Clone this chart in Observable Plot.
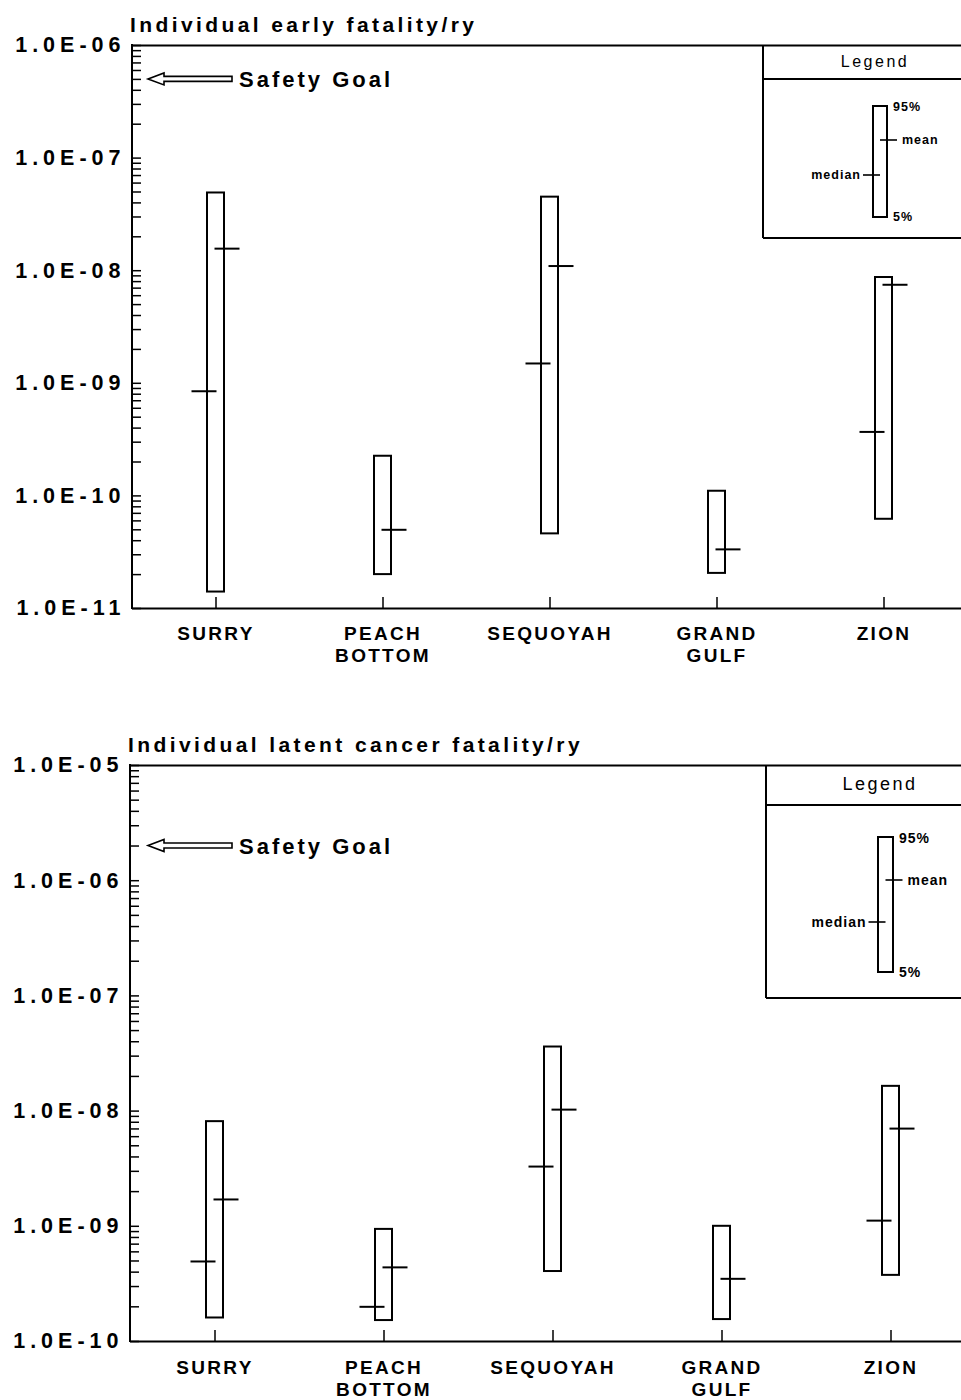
<!DOCTYPE html>
<html><head><meta charset="utf-8">
<script src="https://cdn.jsdelivr.net/npm/d3@7"></script>
<script src="https://cdn.jsdelivr.net/npm/@observablehq/plot@0.6"></script>
<style>
body{margin:0;background:#fff;}
#wrap{width:961px;}
svg{display:block;}
g[aria-label="y-axis tick label"]{letter-spacing:5px;}
g[aria-label="x-axis tick label"]{letter-spacing:2.3px;}
</style></head><body><div id="wrap"></div>
<script>
// ---- data ----
const plants = ["SURRY", "PEACH\nBOTTOM", "SEQUOYAH", "GRAND\nGULF", "ZION"];

const earlyP5     = [1.4e-11, 2.0e-11, 4.6e-11, 2.05e-11, 6.2e-11];
const earlyP95    = [4.9e-8, 2.25e-10, 4.5e-8, 1.1e-10, 8.7e-9];
const earlyMedian = [8.5e-10, null, 1.5e-9, null, 3.7e-10];
const earlyMean   = [1.57e-8, 5.0e-11, 1.1e-8, 3.35e-11, 7.5e-9];

const latentP5     = [1.6e-10, 1.52e-10, 4.05e-10, 1.55e-10, 3.75e-10];
const latentP95    = [8.1e-9, 9.4e-10, 3.6e-8, 1.0e-9, 1.64e-8];
const latentMedian = [4.95e-10, 2.0e-10, 3.3e-9, null, 1.12e-9];
const latentMean   = [1.71e-9, 4.4e-10, 1.03e-8, 3.5e-10, 7.05e-9];

const earlyTicks  = [1e-11, 1e-10, 1e-9, 1e-8, 1e-7, 1e-6];
const latentTicks = [1e-10, 1e-9, 1e-8, 1e-7, 1e-6, 1e-5];

const earlyGoal = 5e-7;
const latentGoal = 2e-6;

const earlyTitle = "Individual early fatality/ry";
const latentTitle = "Individual latent cancer fatality/ry";
const goalLabel = "Safety Goal";
const legendLabels = {head: "Legend", hi: "95%", mean: "mean", median: "median", lo: "5%"};

// ---- drawing ----
const FONT = "'Liberation Sans', Arial, Helvetica, sans-serif";
const fmt = d => {
  const [m, e] = d.toExponential(1).split("e");
  const n = +e;
  return m + "E" + (n < 0 ? "-" : "+") + String(Math.abs(n)).padStart(2, "0");
};

function panel(cfg) {
  const {title, ticks, p5, p95, med, mean, goal, xr0, xr1, marginTop, marginBottom, height, labelPad, titleX, titleY, lg} = cfg;
  const lo = ticks[0], hi = ticks[ticks.length - 1];
  const data = plants.map((p, i) => ({plant: p, p5: p5[i], p95: p95[i], med: med[i], mean: mean[i]}));
  const step = (xr1 - xr0) / plants.length;
  const boxW = 17;
  const minor = [];
  for (let i = 0; i < ticks.length - 1; i++) for (let k = 1; k < 10; k++) minor.push(k * ticks[i]);
  minor.push(hi);
  const innerH = height - marginTop - marginBottom;

  const chart = Plot.plot({
    width: 961, height, marginTop, marginBottom, marginLeft: xr0, marginRight: 0,
    style: {fontFamily: FONT, background: "white", color: "black", overflow: "visible"},
    x: {type: "band", domain: plants, range: [xr0, xr1], padding: 0, round: false, label: null},
    y: {type: "log", domain: [lo, hi], label: null},
    marks: [
      Plot.ruleY([hi, lo], {strokeWidth: 2}),
      Plot.tickY(minor, {y: d => d, insetRight: 961 - xr0 - 9, strokeWidth: 1.5}),
      Plot.tickX(plants, {x: d => d, insetTop: innerH - 11, strokeWidth: 1.5}),
      Plot.barY(data, {x: "plant", y1: "p5", y2: "p95", fill: "white", stroke: "black", strokeWidth: 2,
        insetLeft: (step - boxW) / 2, insetRight: (step - boxW) / 2}),
      Plot.tickY(data.filter(d => d.med != null), {x: "plant", y: "med", strokeWidth: 2,
        insetLeft: step / 2 - 24, insetRight: step / 2 - 1}),
      Plot.tickY(data.filter(d => d.mean != null), {x: "plant", y: "mean", strokeWidth: 2,
        insetLeft: step / 2 - 1, insetRight: step / 2 - 24}),
      Plot.axisY(ticks, {tickSize: 0, tickPadding: 7, tickFormat: fmt, fontSize: 21.5, fontWeight: "bold", label: null}),
      Plot.axisX({tickSize: 0, tickPadding: labelPad, fontSize: 19, fontWeight: "bold", lineHeight: 1.2, label: null})
    ]
  });

  const svg = d3.select(chart);
  const y = chart.scale("y");
  // left axis line
  svg.append("line").attr("x1", xr0).attr("x2", xr0).attr("y1", marginTop - 1).attr("y2", height - marginBottom + 1)
    .attr("stroke", "black").attr("stroke-width", 2);
  // title
  svg.append("text").attr("x", titleX).attr("y", titleY).attr("text-anchor", "start").text(title)
    .attr("font-size", 21).attr("font-weight", "bold").attr("font-family", FONT).style("letter-spacing", "3.4px");
  // safety goal arrow
  const gy = y.apply(goal);
  const tip = 148, base = 164, end = 232;
  svg.append("path")
    .attr("d", `M${tip},${gy} L${base},${gy - 6} L${base},${gy - 2.5} L${end},${gy - 2.5} L${end},${gy + 2.5} L${base},${gy + 2.5} L${base},${gy + 6} Z`)
    .attr("fill", "white").attr("stroke", "black").attr("stroke-width", 1.6).attr("stroke-linejoin", "miter");
  svg.append("text").attr("x", 239).attr("y", gy + 8).attr("text-anchor", "start").text(goalLabel)
    .attr("font-size", 22).attr("font-weight", "bold").attr("font-family", FONT).style("letter-spacing", "3px");

  // legend
  const g = svg.append("g").attr("font-family", FONT).attr("fill", "black");
  const line = (x1, y1, x2, y2, w = 2) => g.append("line").attr("x1", x1).attr("y1", y1).attr("x2", x2).attr("y2", y2)
    .attr("stroke", "black").attr("stroke-width", w);
  line(lg.left, marginTop, lg.left, lg.bottom);
  line(lg.left, lg.div, 961, lg.div);
  line(lg.left, lg.bottom, 961, lg.bottom);
  g.append("text").attr("x", lg.headX).attr("y", lg.headY).attr("text-anchor", "middle").attr("dominant-baseline", "central")
    .attr("font-size", lg.headSize).style("letter-spacing", "2.5px").text(legendLabels.head);
  g.append("rect").attr("x", lg.barX).attr("y", lg.barTop).attr("width", lg.barW).attr("height", lg.barBot - lg.barTop)
    .attr("fill", "white").attr("stroke", "black").attr("stroke-width", 2);
  const cx = lg.barX + lg.barW / 2;
  line(cx, lg.meanY, cx + 17, lg.meanY, 1.6);
  line(cx - 17, lg.medY, cx, lg.medY, 1.6);
  const lab = (x, yy, t, anchor = "start") => g.append("text").attr("x", x).attr("y", yy).attr("text-anchor", anchor)
    .attr("dominant-baseline", "central").attr("font-size", lg.fs).attr("font-weight", "bold").style("letter-spacing", "1px").text(t);
  lab(lg.barX + lg.barW + 6, lg.barTop + 1, legendLabels.hi);
  lab(cx + 22, lg.meanY, legendLabels.mean);
  lab(cx - 19, lg.medY, legendLabels.median, "end");
  lab(lg.barX + lg.barW + 6, lg.barBot, legendLabels.lo);
  return chart;
}

const wrap = document.getElementById("wrap");
wrap.appendChild(panel({
  title: earlyTitle, ticks: earlyTicks, p5: earlyP5, p95: earlyP95, med: earlyMedian, mean: earlyMean, goal: earlyGoal,
  xr0: 132, xr1: 967, marginTop: 45, marginBottom: 92, height: 700, labelPad: 15, titleX: 130, titleY: 32,
  lg: {left: 763, div: 79, bottom: 238, headX: 875, headY: 61, headSize: 16,
       barX: 873, barW: 14, barTop: 106, barBot: 217, meanY: 140, medY: 175, fs: 12.5}
}));
wrap.appendChild(panel({
  title: latentTitle, ticks: latentTicks, p5: latentP5, p95: latentP95, med: latentMedian, mean: latentMean, goal: latentGoal,
  xr0: 130, xr1: 975, marginTop: 65, marginBottom: 59, height: 700, labelPad: 16, titleX: 128, titleY: 52,
  lg: {left: 766, div: 105, bottom: 298, headX: 880, headY: 84, headSize: 18,
       barX: 878, barW: 15, barTop: 137, barBot: 272, meanY: 180, medY: 222, fs: 14}
}));
</script></body></html>
